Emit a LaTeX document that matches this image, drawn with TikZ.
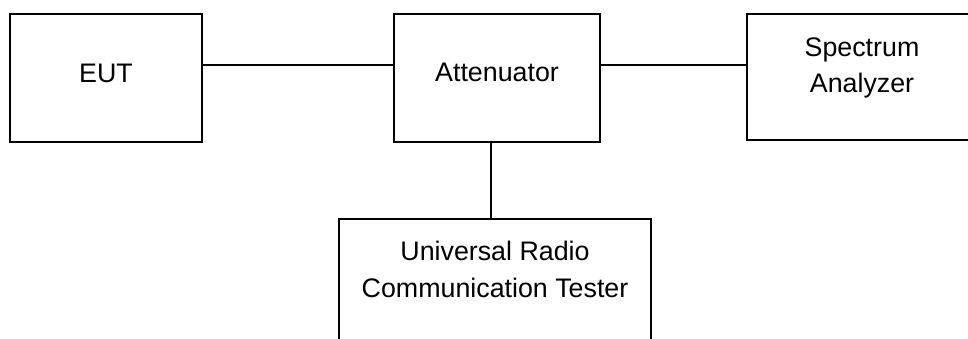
\documentclass[tikz,border=0pt]{standalone}
\usepackage{fontspec}
\setmainfont{Liberation Sans}
\usepackage{tikz}
\tikzset{unit/.style={draw,line width=2pt,minimum height=128pt,inner sep=0pt},
         unittext/.style={align=center,font=\fontsize{26.8}{36.5}\selectfont},
         wire/.style={line width=2pt}}

\begin{document}
\begin{tikzpicture}[x=1pt,y=-1pt] % 按像素坐标, y向下
    \useasboundingbox (0,0) rectangle (968,338);
    \clip (0,0) rectangle (968,338); % 右侧和下方的框被截断
    \node[unit,minimum width=192pt,label={[unittext,yshift=5pt]center:EUT}] (eut) at (106,78) {};
    \node[unit,minimum width=206pt,label={[unittext,yshift=5.5pt]center:Attenuator}] (att) at (497,78) {};
    \node[unit,minimum width=230pt,minimum height=126pt,label={[unittext,yshift=9pt]center:Spectrum\\Analyzer}] (sa) at (862,77) {};
    \node[unit,minimum width=312pt,label={[unittext,yshift=13.5pt]center:Universal Radio\\Communication Tester}] (urct) at (495,283) {};
    \draw[wire] ([yshift=13.5pt]eut.east) -- ([yshift=13.5pt]att.west); % 连线
    \draw[wire] ([yshift=13.5pt]att.east) -- ([yshift=13.5pt]att.east -| sa.west);
    \draw[wire] ([xshift=-4pt]urct.north) -- ([xshift=-4pt]urct.north |- att.south);
\end{tikzpicture}
\end{document}
